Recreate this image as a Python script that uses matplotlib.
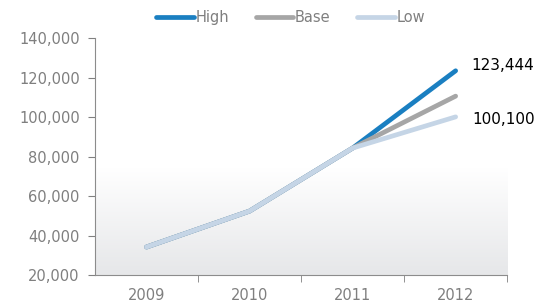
import numpy as np
import matplotlib as mpl
mpl.use('Agg')
import matplotlib.pyplot as plt
from matplotlib.ticker import FuncFormatter

years = ['2009', '2010', '2011', '2012']
high = [34200, 52400, 84300, 123444]
base = [34200, 52400, 84300, 110600]
low = [34200, 52400, 84300, 100100]

series = [('High', high, '#1a7fc1'), ('Base', base, '#a6a6a6'), ('Low', low, '#c5d5e6')]

fig = plt.figure(figsize=(5.43, 3.07), dpi=100)
ax = fig.add_axes([0.175, 0.104, 0.759, 0.772])

x = np.arange(len(years))
# background gradient, white at top fading to light grey
grad = np.linspace(0, 1, 256).reshape(-1, 1)
cmap = mpl.colors.LinearSegmentedColormap.from_list(
    'bg', [(0, '#e6e7e9'), (0.45, '#ffffff'), (1, '#ffffff')])
ax.imshow(grad, aspect='auto', cmap=cmap, origin='lower',
          extent=[-0.5, 3.5, 20000, 140000], zorder=0)

for name, vals, col in series:
    ax.plot(x, vals, color=col, lw=3.4, solid_capstyle='round', label=name, zorder=3)

ax.set_xlim(-0.5, 3.5)
ax.set_ylim(20000, 140000)
ax.set_yticks(range(20000, 140001, 20000))
ax.yaxis.set_major_formatter(FuncFormatter(lambda v, p: f'{int(v):,}'))
ax.set_xticks(x)
ax.set_xticklabels(years)
ax.set_xticks([0.5, 1.5, 2.5, 3.5], minor=True)
ax.tick_params(axis='x', which='major', length=0, pad=9)
ax.tick_params(axis='x', which='minor', length=5, color='#808080', direction='out')
ax.tick_params(axis='y', length=5, color='#808080', pad=6)
ax.tick_params(labelsize=10.5, labelcolor='#7f7f7f')

for s in ['top', 'right']:
    ax.spines[s].set_visible(False)
for s in ['left', 'bottom']:
    ax.spines[s].set_color('#8c8c8c')

ax.annotate(f'{high[-1]:,}', (x[-1], high[-1]), xytext=(11, 4), textcoords='offset points',
            fontsize=11, color='black', va='center', ha='left')
ax.annotate(f'{low[-1]:,}', (x[-1], low[-1]), xytext=(12, -2), textcoords='offset points',
            fontsize=11, color='black', va='center', ha='left')

leg = fig.legend(loc='upper center', bbox_to_anchor=(0.535, 1.01), ncol=3, frameon=False,
                 fontsize=10.5, handlelength=2.6, handletextpad=0.1, columnspacing=1.8)
for t in leg.get_texts():
    t.set_color('#7f7f7f')

plt.savefig('out.png', dpi=100)
